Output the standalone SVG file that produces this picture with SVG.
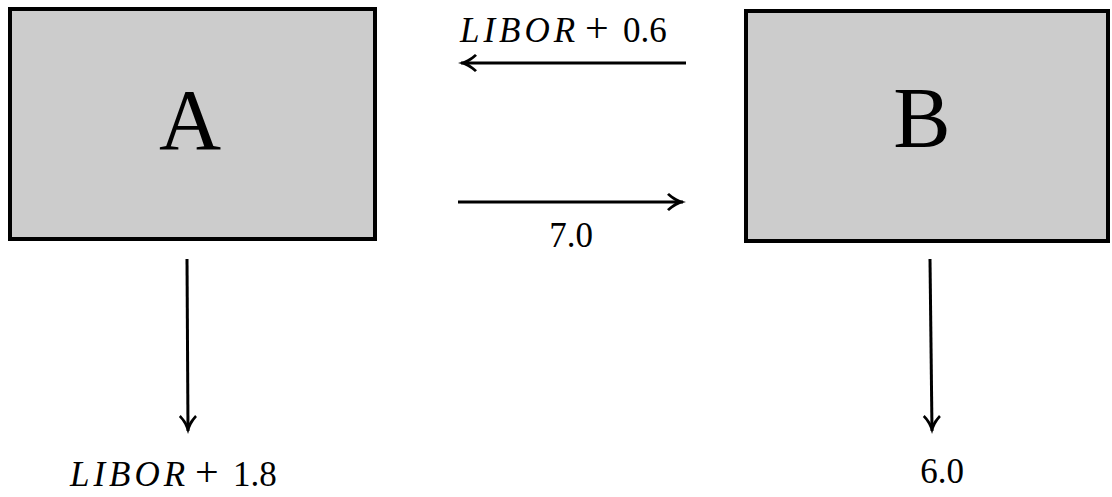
<svg xmlns="http://www.w3.org/2000/svg" width="1112" height="497" viewBox="0 0 1112 497">
  <style>
    .box { fill: #cccccc; stroke: #000000; stroke-width: 4; }
    .big { font-family: "Liberation Serif", "DejaVu Serif", serif; font-size: 86px; fill: #000; text-anchor: middle; }
    .lbl { font-family: "Liberation Serif", "DejaVu Serif", serif; font-size: 35px; fill: #000; }
    .mid { text-anchor: middle; }
    .it { font-style: italic; letter-spacing: 4px; }
    .op { font-size: 42px; }
    .edge { stroke: #000; stroke-width: 3; fill: none; marker-end: url(#head); }
  </style>
  <defs>
    <!-- curved LaTeX-style arrowhead; tip sits 3px past the line end -->
    <marker id="head" viewBox="-18 -10 22 20" refX="0" refY="0" markerWidth="22" markerHeight="20" orient="auto" markerUnits="userSpaceOnUse">
      <path d="M3,0 C-4,-1.8 -10,-5 -14,-9 L-16,-7.2 C-12,-3.6 -8.5,-1.2 -6,0 C-8.5,1.2 -12,3.6 -16,7.2 L-14,9 C-10,5 -4,1.8 3,0 Z" fill="#000"/>
    </marker>
  </defs>

  <g id="nodeA">
    <rect class="box" x="10" y="9" width="365" height="230"/>
    <text class="big" x="190" y="149">A</text>
  </g>

  <g id="nodeB">
    <rect class="box" x="746" y="11" width="362" height="230"/>
    <text class="big" x="922" y="147">B</text>
  </g>

  <g id="connectors">
    <line class="edge" x1="686" y1="63" x2="461" y2="63"/>
    <line class="edge" x1="458" y1="202" x2="683" y2="202"/>
    <line class="edge" x1="187" y1="259" x2="188" y2="431"/>
    <line class="edge" x1="930" y1="259" x2="932" y2="431"/>
  </g>

  <g id="labels">
    <text class="lbl" y="42"><tspan class="it" x="460">LIBOR</tspan><tspan class="op" x="585">+</tspan><tspan x="623">0.6</tspan></text>
    <text class="lbl mid" x="571" y="247">7.0</text>
    <text class="lbl" y="486"><tspan class="it" x="70">LIBOR</tspan><tspan class="op" x="195">+</tspan><tspan x="233">1.8</tspan></text>
    <text class="lbl mid" x="942" y="483">6.0</text>
  </g>
</svg>
